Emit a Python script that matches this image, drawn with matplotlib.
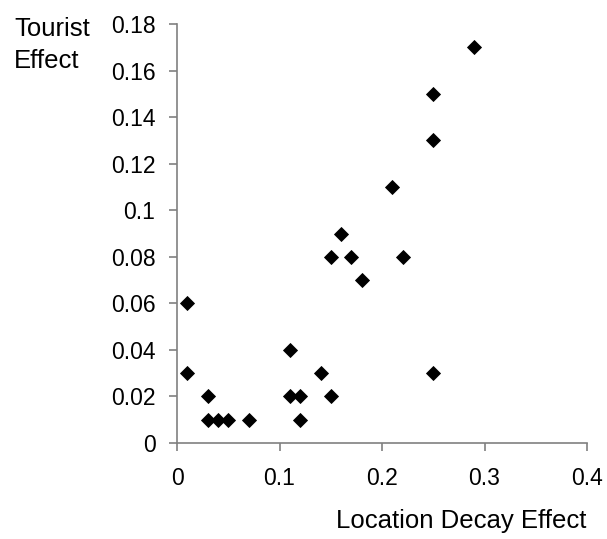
import matplotlib
matplotlib.use("Agg")
import matplotlib.pyplot as plt

plt.rcParams['font.family'] = ['Liberation Sans', 'DejaVu Sans']

location_decay = [0.01, 0.01, 0.03, 0.03, 0.04, 0.05, 0.07, 0.11, 0.11, 0.12, 0.12,
                  0.14, 0.15, 0.15, 0.16, 0.17, 0.18, 0.21, 0.22, 0.25, 0.25, 0.25, 0.29]
tourist_effect = [0.06, 0.03, 0.02, 0.01, 0.01, 0.01, 0.01, 0.04, 0.02, 0.02, 0.01,
                  0.03, 0.02, 0.08, 0.09, 0.08, 0.07, 0.11, 0.08, 0.15, 0.13, 0.03, 0.17]
x_ticks = [0, 0.1, 0.2, 0.3, 0.4]
x_tick_labels = ['0', '0.1', '0.2', '0.3', '0.4']
y_ticks = [0, 0.02, 0.04, 0.06, 0.08, 0.1, 0.12, 0.14, 0.16, 0.18]
y_tick_labels = ['0', '0.02', '0.04', '0.06', '0.08', '0.1', '0.12', '0.14', '0.16', '0.18']

W, H = 607, 539
fig = plt.figure(figsize=(W / 100, H / 100), dpi=100)
ax = fig.add_axes([177 / W, 1 - 443 / H, (587 - 177) / W, (443 - 24) / H])
ax.plot(location_decay, tourist_effect, linestyle='none', marker='D',
        markersize=7.2, markeredgewidth=0.6, color='black', clip_on=False)
ax.set_xlim(0, 0.4)
ax.set_ylim(0, 0.18)
ax.set_xticks(x_ticks)
ax.set_xticklabels(x_tick_labels)
ax.set_yticks(y_ticks)
ax.set_yticklabels(y_tick_labels)
for s in ['top', 'right']:
    ax.spines[s].set_visible(False)
for s in ['left', 'bottom']:
    ax.spines[s].set_color('#808080')
    ax.spines[s].set_linewidth(1.2)
fs = 16.5
ax.tick_params(axis='both', colors='#808080', labelcolor='black', labelsize=fs,
               length=5.5, width=1.2, direction='out')
ax.tick_params(axis='y', pad=10)
ax.tick_params(axis='x', pad=12)
fs_title = 18.5
fig.text(586 / W, 1 - 521 / H, 'Location Decay Effect', ha='right', va='center',
         fontsize=fs_title)
fig.text(14 / W, 1 - 45 / H, 'Tourist\nEffect', ha='left', va='center', fontsize=fs_title,
         linespacing=1.45)
fig.savefig('out.png', dpi=100)
